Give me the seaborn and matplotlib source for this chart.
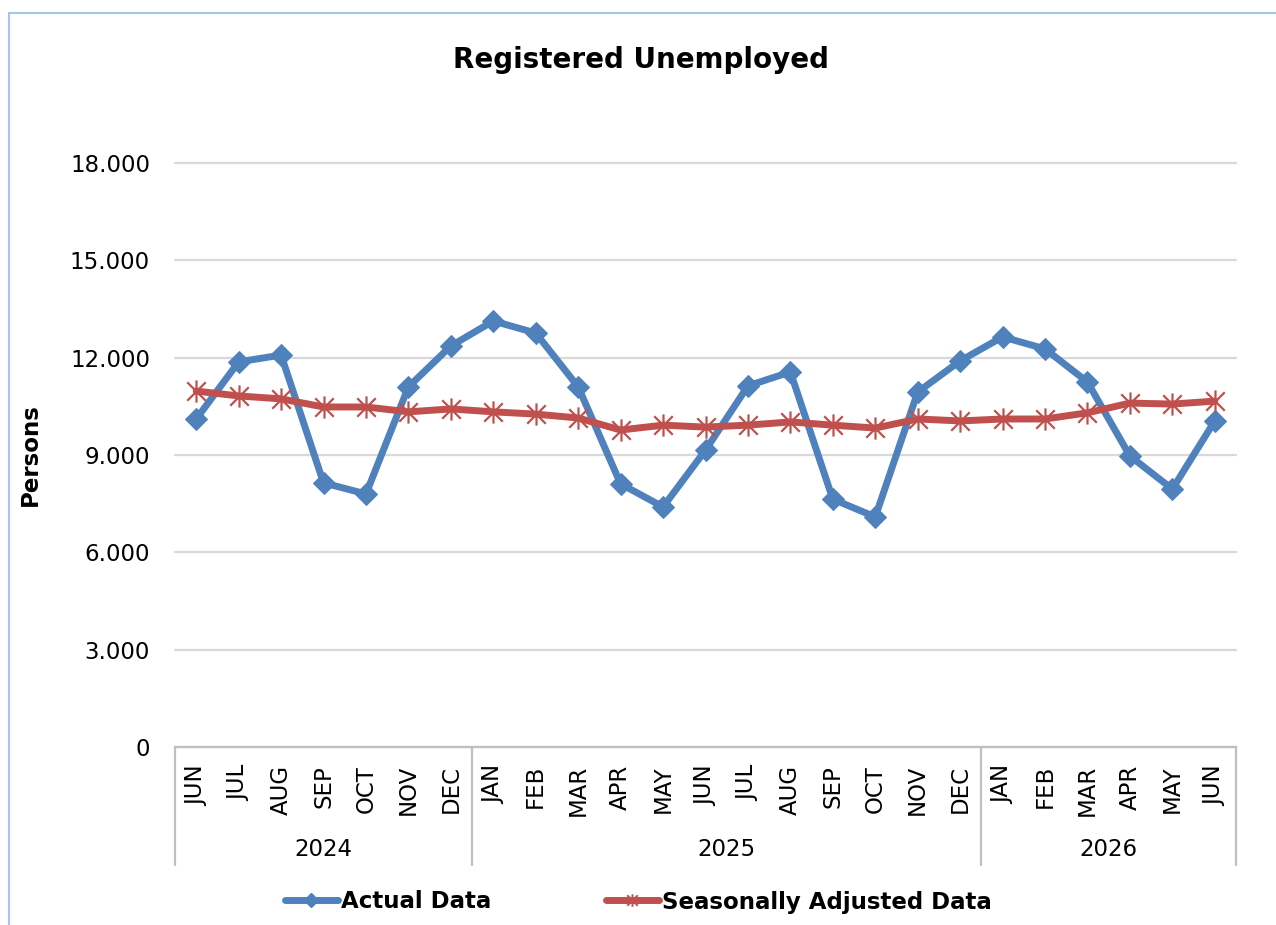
import numpy as np
import pandas as pd
import seaborn as sns
import matplotlib
matplotlib.use("Agg")
import matplotlib.pyplot as plt
from matplotlib.lines import Line2D
from matplotlib.path import Path
from matplotlib.ticker import FuncFormatter, FixedLocator
import matplotlib.transforms as mtransforms

# --- data ---
months = ["JUN", "JUL", "AUG", "SEP", "OCT", "NOV", "DEC",
          "JAN", "FEB", "MAR", "APR", "MAY", "JUN", "JUL", "AUG", "SEP", "OCT", "NOV", "DEC",
          "JAN", "FEB", "MAR", "APR", "MAY", "JUN"]
years = ["2024"] * 7 + ["2025"] * 12 + ["2026"] * 6
actual = [10110, 11870, 12080, 8140, 7800, 11100, 12360,
          13130, 12760, 11100, 8110, 7400, 9150, 11130, 11560, 7640, 7090, 10940, 11900,
          12640, 12270, 11250, 8970, 7950, 10050]
seasonal = [10970, 10820, 10730, 10480, 10480, 10330, 10420,
            10330, 10260, 10140, 9770, 9920, 9860, 9920, 10020, 9920, 9830, 10110, 10050,
            10110, 10110, 10300, 10600, 10570, 10660]

BLUE = "#4F81BD"
RED = "#C0504D"
GRID = "#D9D9D9"
AXIS = "#BFBFBF"

df = pd.DataFrame({
    "pos": np.arange(len(months)),
    "month": months,
    "year": years,
    "actual": actual,
    "seasonal": seasonal,
})

sns.set_style("white")
plt.rcParams["font.family"] = ["DejaVu Sans"]
plt.rcParams["text.color"] = "black"
plt.rcParams["xtick.color"] = "black"
plt.rcParams["ytick.color"] = "black"
plt.rcParams["axes.labelcolor"] = "black"

# Excel-style star: an X plus a vertical stroke
star = Path(
    [(-1, -1), (1, 1), (-1, 1), (1, -1), (0, -1.2), (0, 1.2)],
    [Path.MOVETO, Path.LINETO, Path.MOVETO, Path.LINETO, Path.MOVETO, Path.LINETO],
)

fig = plt.figure(figsize=(12.76, 9.25), dpi=100)
ax = fig.add_axes([175 / 1276, 1 - 747 / 925, (1236 - 175) / 1276, (747 - 163) / 925])

sns.lineplot(data=df, x="pos", y="actual", ax=ax, color=BLUE, linewidth=5,
             marker="D", markersize=11, markeredgecolor=BLUE, zorder=3)
sns.lineplot(data=df, x="pos", y="seasonal", ax=ax, color=RED, linewidth=5,
             marker=star, markersize=16, markeredgewidth=1.6,
             markeredgecolor=RED, zorder=4)

ax.set_xlim(-0.5, len(months) - 0.5)
ax.set_ylim(0, 18000)
ax.set_yticks(np.arange(0, 18001, 3000))
ax.yaxis.set_major_formatter(FuncFormatter(lambda v, _: f"{int(v):,}".replace(",", ".")))
ax.yaxis.grid(True, color=GRID, linewidth=1.6)
ax.set_axisbelow(True)
for gl in ax.get_ygridlines():
    gl.set_clip_on(False)

for s in ["top", "right", "left"]:
    ax.spines[s].set_visible(False)
ax.spines["bottom"].set_color(AXIS)
ax.spines["bottom"].set_linewidth(1.6)

ax.set_xticks(df["pos"])
ax.set_xticklabels(months, rotation=90, fontsize=16.5, va="top")
ax.xaxis.set_minor_locator(FixedLocator(np.arange(-0.5, len(months), 1.0)))
ax.tick_params(axis="x", which="major", length=0, pad=13)
ax.tick_params(axis="x", which="minor", length=5, width=1.3, color=AXIS, direction="out")
ax.tick_params(axis="y", length=0, pad=18, labelsize=16.5)

ax.set_xlabel("")
ax.set_ylabel("Persons", fontsize=16.5, fontweight="bold")
ax.yaxis.set_label_coords(-0.1255, 0.5)

# year group labels and separators
trans = mtransforms.blended_transform_factory(ax.transData, ax.transAxes)
year_names = ["2024", "2025", "2026"]
bounds = [-0.5]
for y in year_names:
    bounds.append(bounds[-1] + years.count(y))
for b in bounds:
    ax.add_line(Line2D([b, b], [0, -118 / 584], transform=trans, color=AXIS,
                       linewidth=1.6, clip_on=False))
for y, lo, hi in zip(year_names, bounds[:-1], bounds[1:]):
    ax.text((lo + hi) / 2, -103 / 584, y, transform=trans, ha="center", va="center",
            fontsize=16.5)

fig.text(0.5024, 1 - 60 / 925, "Registered Unemployed", ha="center", va="center",
         fontsize=20, fontweight="bold")

handles = [
    Line2D([], [], color=BLUE, linewidth=5, marker="D", markersize=7),
    Line2D([], [], color=RED, linewidth=5, marker=star, markersize=9,
           markeredgewidth=1.4),
]
fig.legend(handles, ["Actual Data", "Seasonally Adjusted Data"], loc="center",
           bbox_to_anchor=(0.5, 1 - 902 / 925), ncol=2, frameon=False,
           prop={"size": 16.5, "weight": "bold"}, handlelength=2.35,
           handletextpad=0.1, columnspacing=5.0)

# light blue chart border (left and top)
border = "#A6C5EE"
fig.add_artist(Line2D([9 / 1276, 9 / 1276], [0, 1 - 13 / 925], color=border,
                      linewidth=1.5, transform=fig.transFigure))
fig.add_artist(Line2D([9 / 1276, 1], [1 - 13 / 925, 1 - 13 / 925], color=border,
                      linewidth=1.5, transform=fig.transFigure))

fig.savefig("out.png", dpi=100)
